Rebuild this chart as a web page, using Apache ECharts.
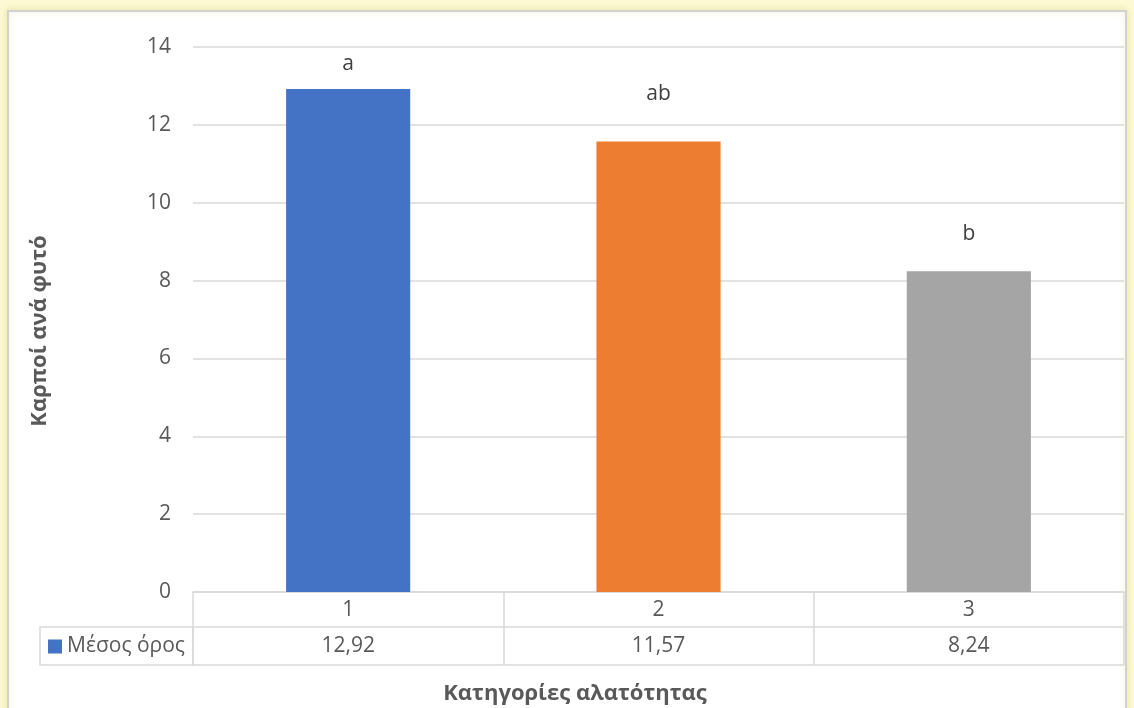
<!DOCTYPE html>
<html>
<head>
<meta charset="utf-8">
<script src="https://cdn.jsdelivr.net/npm/echarts@6/dist/echarts.min.js"></script>
<style>
  html, body { margin: 0; padding: 0; background: #fcf9d3; }
  #chart { width: 1134px; height: 708px; }
</style>
</head>
<body>
<div id="chart"></div>
<script>
// Salinity categories and mean fruits per plant
const categories = ['1', '2', '3'];
const meanValues = [12.92, 11.57, 8.24];
const groupLetters = ['a', 'ab', 'b'];
const seriesName = 'Μέσος όρος';
const yTicks = { min: 0, max: 14, interval: 2 };
const yTitle = 'Καρποί ανά φυτό';
const xTitle = 'Κατηγορίες αλατότητας';

const barColors = ['#4472C4', '#ED7D31', '#A5A5A5'];
const letterGap = [15, 37, 27];
const FONT = '"Open Sans", "Noto Sans", sans-serif';
const TXT = '#595959';
const LINE = '#d9d9d9';

const fmt = v => v.toFixed(2).replace('.', ',');

const chart = echarts.init(document.getElementById('chart'), null, { renderer: 'canvas' });

chart.setOption({
  backgroundColor: 'transparent',
  textStyle: { fontFamily: FONT },
  animation: false,
  grid: { left: 193, right: 10, top: 47, bottom: 116 },
  legend: {
    data: [{ name: seriesName, itemStyle: { color: barColors[0] } }],
    left: 48, top: 636, padding: 0,
    itemWidth: 14, itemHeight: 14, itemGap: 6,
    icon: 'rect',
    textStyle: { color: TXT, fontSize: 21, fontFamily: FONT },
    selectedMode: false
  },
  xAxis: [
    {
      type: 'category', data: categories, position: 'bottom',
      axisLine: { lineStyle: { color: LINE, width: 1.5 } },
      axisTick: { show: true, length: 73, lineStyle: { color: LINE, width: 1.5 } },
      axisLabel: { color: TXT, fontSize: 21, margin: 8, fontFamily: FONT }
    },
    {
      type: 'category', data: meanValues.map(fmt), position: 'bottom', offset: 35,
      axisLine: { lineStyle: { color: LINE, width: 1.5 } },
      axisTick: { show: false },
      axisLabel: { color: TXT, fontSize: 21, margin: 9, fontFamily: FONT }
    },
    {
      type: 'category', data: categories, position: 'bottom', offset: 73,
      axisLine: { lineStyle: { color: LINE, width: 1.5 } },
      axisTick: { show: false },
      axisLabel: { show: false }
    }
  ],
  yAxis: {
    type: 'value', min: yTicks.min, max: yTicks.max, interval: yTicks.interval,
    axisLine: { show: false }, axisTick: { show: false },
    axisLabel: { color: TXT, fontSize: 21, margin: 22, fontFamily: FONT },
    splitLine: { lineStyle: { color: LINE, width: 1.5 } }
  },
  series: [{
    name: seriesName,
    type: 'bar',
    xAxisIndex: 0,
    barWidth: '40%',
    data: meanValues.map((v, i) => ({
      value: v,
      itemStyle: { color: barColors[i] },
      label: { distance: letterGap[i] }
    })),
    label: {
      show: true, position: 'top',
      formatter: p => groupLetters[p.dataIndex],
      color: '#404040', fontSize: 21, fontFamily: FONT
    }
  }],
  graphic: [
    {
      type: 'rect', z: -100, silent: true,
      shape: { x: 8, y: 11, width: 1118, height: 720 },
      style: { fill: '#ffffff', stroke: '#d2d2d2', lineWidth: 2,
               shadowBlur: 6, shadowColor: 'rgba(200,190,80,0.35)' }
    },
    {
      type: 'rect', silent: true,
      shape: { x: 40, y: 627, width: 153, height: 38 },
      style: { fill: 'none', stroke: LINE, lineWidth: 1.5 }
    },
    {
      type: 'text', silent: true,
      x: 40, y: 331, rotation: Math.PI / 2,
      style: { text: yTitle, fill: TXT, font: 'bold 22px ' + FONT,
               textAlign: 'center', textVerticalAlign: 'middle' }
    },
    {
      type: 'text', silent: true,
      x: 575, y: 694,
      style: { text: xTitle, fill: TXT, font: 'bold 22px ' + FONT,
               textAlign: 'center', textVerticalAlign: 'middle' }
    }
  ]
});
</script>
</body>
</html>
